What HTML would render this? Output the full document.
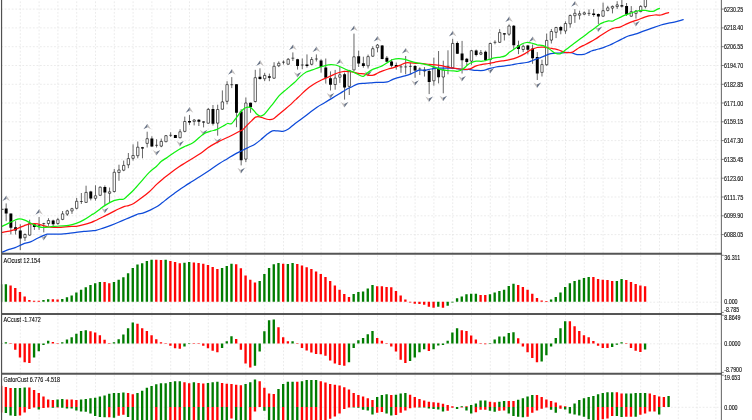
<!DOCTYPE html><html><head><meta charset="utf-8"><title>Chart</title><style>html,body{margin:0;padding:0;background:#fff;}svg{display:block}text{font-family:"Liberation Sans","DejaVu Sans",sans-serif;fill:#000}</style></head><body>
<svg width="752" height="420" viewBox="0 0 752 420">
<rect width="752" height="420" fill="#fff"/>
<path d="M20.3 -2.15V420M39.1 -2.15V420M57.9 -2.15V420M76.7 -2.15V420M95.5 -2.15V420M114.3 -2.15V420M133.1 -2.15V420M151.9 -2.15V420M170.7 -2.15V420M189.5 -2.15V420M208.3 -2.15V420M227.1 -2.15V420M245.9 -2.15V420M264.7 -2.15V420M283.5 -2.15V420M302.3 -2.15V420M321.1 -2.15V420M339.9 -2.15V420M358.7 -2.15V420M377.5 -2.15V420M396.3 -2.15V420M415.1 -2.15V420M433.9 -2.15V420M452.7 -2.15V420M471.5 -2.15V420M490.3 -2.15V420M509.1 -2.15V420M527.9 -2.15V420M546.7 -2.15V420M565.5 -2.15V420M584.3 -2.15V420M603.1 -2.15V420M621.9 -2.15V420M640.7 -2.15V420M659.5 -2.15V420M678.3 -2.15V420M697.1 -2.15V420M715.9 -2.15V420M1.2 9.1H721.4M1.2 27.9H721.4M1.2 46.7H721.4M1.2 65.5H721.4M1.2 84.3H721.4M1.2 103.0H721.4M1.2 121.8H721.4M1.2 140.6H721.4M1.2 159.4H721.4M1.2 178.2H721.4M1.2 197.0H721.4M1.2 215.8H721.4M1.2 234.6H721.4M1.2 302.2H721.4M1.2 343.8H721.4M1.2 407.3H721.4"  stroke="#dedede" stroke-width="0.6" stroke-dasharray="1.7625 1.7625" fill="none"/>
<clipPath id="mc"><rect x="0" y="0" width="722" height="252.9"/></clipPath><g clip-path="url(#mc)">
<path d="M6.4 195.4L10.0 201.0L6.4 198.9ZM39.3 209.1L42.9 214.7L39.3 212.6ZM147.4 123.7L151.0 129.3L147.4 127.2ZM189.7 107.1L193.3 112.7L189.7 110.6ZM232.0 69.1L235.6 74.7L232.0 72.6ZM260.2 60.3L263.8 65.9L260.2 63.8ZM293.1 44.4L296.7 50.0L293.1 47.9ZM316.6 46.4L320.2 52.0L316.6 49.9ZM340.1 58.9L343.7 64.5L340.1 62.4ZM354.2 25.6L357.8 31.2L354.2 29.1ZM377.7 36.0L381.3 41.6L377.7 39.5ZM405.9 48.0L409.5 53.6L405.9 51.5ZM452.9 30.8L456.5 36.4L452.9 34.3ZM509.3 16.4L512.9 22.0L509.3 19.9ZM532.8 36.5L536.4 42.1L532.8 40.0ZM575.1 1.1L578.7 6.7L575.1 4.6ZM20.0 258.2L16.5 252.6L20.0 254.7ZM43.5 240.4L40.0 234.8L43.5 236.9ZM104.6 213.2L101.1 207.6L104.6 209.7ZM156.3 155.5L152.8 149.9L156.3 152.0ZM179.8 146.4L176.3 140.8L179.8 142.9ZM203.3 135.4L199.8 129.8L203.3 131.9ZM217.4 143.7L213.9 138.1L217.4 140.2ZM240.9 173.4L237.4 167.8L240.9 169.9ZM297.3 77.6L293.8 72.0L297.3 74.1ZM330.2 98.5L326.7 92.9L330.2 95.0ZM344.3 107.6L340.8 102.0L344.3 104.1ZM367.8 76.5L364.3 70.9L367.8 73.0ZM414.8 85.8L411.3 80.2L414.8 82.3ZM428.9 102.1L425.4 96.5L428.9 98.6ZM443.0 101.3L439.5 95.7L443.0 97.8ZM461.8 81.5L458.3 75.9L461.8 78.0ZM490.0 73.6L486.5 68.0L490.0 70.1ZM537.0 88.0L533.5 82.4L537.0 84.5ZM598.1 32.1L594.6 26.5L598.1 28.6ZM635.7 26.6L632.2 21.0L635.7 23.1Z" fill="#bcb8b6" fill-opacity="0.9"/>
<path d="M6.4 195.4L6.4 198.9L2.4 201.0ZM39.3 209.1L39.3 212.6L35.3 214.7ZM147.4 123.7L147.4 127.2L143.4 129.3ZM189.7 107.1L189.7 110.6L185.7 112.7ZM232.0 69.1L232.0 72.6L228.0 74.7ZM260.2 60.3L260.2 63.8L256.2 65.9ZM293.1 44.4L293.1 47.9L289.1 50.0ZM316.6 46.4L316.6 49.9L312.6 52.0ZM340.1 58.9L340.1 62.4L336.1 64.5ZM354.2 25.6L354.2 29.1L350.2 31.2ZM377.7 36.0L377.7 39.5L373.7 41.6ZM405.9 48.0L405.9 51.5L401.9 53.6ZM452.9 30.8L452.9 34.3L448.9 36.4ZM509.3 16.4L509.3 19.9L505.3 22.0ZM532.8 36.5L532.8 40.0L528.8 42.1ZM575.1 1.1L575.1 4.6L571.1 6.7ZM20.0 258.2L20.0 254.7L24.1 252.6ZM43.5 240.4L43.5 236.9L47.6 234.8ZM104.6 213.2L104.6 209.7L108.7 207.6ZM156.3 155.5L156.3 152.0L160.4 149.9ZM179.8 146.4L179.8 142.9L183.9 140.8ZM203.3 135.4L203.3 131.9L207.4 129.8ZM217.4 143.7L217.4 140.2L221.5 138.1ZM240.9 173.4L240.9 169.9L245.0 167.8ZM297.3 77.6L297.3 74.1L301.4 72.0ZM330.2 98.5L330.2 95.0L334.3 92.9ZM344.3 107.6L344.3 104.1L348.4 102.0ZM367.8 76.5L367.8 73.0L371.9 70.9ZM414.8 85.8L414.8 82.3L418.9 80.2ZM428.9 102.1L428.9 98.6L433.0 96.5ZM443.0 101.3L443.0 97.8L447.1 95.7ZM461.8 81.5L461.8 78.0L465.9 75.9ZM490.0 73.6L490.0 70.1L494.1 68.0ZM537.0 88.0L537.0 84.5L541.1 82.4ZM598.1 32.1L598.1 28.6L602.2 26.5ZM635.7 26.6L635.7 23.1L639.8 21.0Z" fill="#687386" fill-opacity="1"/>
</g>
<path d="M6.17 203.4V221.2M10.87 213.6V234.5M15.57 221.2V234.5M20.27 224.3V250.2M24.97 233.4V241.0M29.67 219.7V235.7M34.37 223.2V229.9M39.07 217.1V229.9M37.60 225.4h2.94M43.77 222.8V232.4M42.30 223.6h2.94M48.47 218.2V225.8M53.17 219.7V226.3M57.87 217.9V224.7M62.57 211.0V220.2M67.27 209.8V215.9M71.97 207.8V213.9M76.67 197.9V209.4M81.37 193.0V203.9M79.90 201.5h2.94M86.07 185.7V203.0M90.77 190.8V200.4M95.47 185.3V200.6M100.17 186.5V195.8M104.87 185.4V205.2M109.57 187.5V203.0M114.27 169.0V192.5M118.97 164.7V180.8M123.67 160.6V171.2M128.37 153.0V168.2M133.07 144.3V160.6M137.77 141.5V158.3M142.47 146.9V158.3M147.17 131.7V147.5M151.87 136.3V146.8M156.57 139.2V147.5M155.10 145.3h2.94M161.27 138.6V147.2M165.97 135.0V142.2M170.67 132.3V136.9M169.20 135.3h2.94M175.37 134.9V138.0M180.07 129.2V138.4M184.77 116.6V132.3M189.47 115.1V124.9M194.17 119.1V125.4M198.87 119.1V126.0M203.57 121.2V127.4M208.27 108.0V123.8M212.97 105.0V125.5M217.67 104.7V135.7M222.37 90.4V109.8M227.07 81.2V104.3M231.77 77.1V88.1M230.30 84.7h2.94M236.47 84.0V127.2M241.17 109.2V165.4M245.87 97.5V162.2M250.57 102.5V112.8M255.27 69.8V102.5M259.97 68.3V79.7M264.67 72.9V81.2M269.37 73.6V81.2M274.07 62.2V78.8M278.77 61.4V67.1M283.47 60.4V64.5M282.00 62.2h2.94M288.17 58.0V64.8M292.87 52.4V61.0M291.40 58.2h2.94M297.57 58.8V69.6M302.27 58.5V69.1M300.80 65.0h2.94M306.97 54.4V67.6M311.67 57.0V65.3M316.37 54.4V61.5M314.90 59.0h2.94M321.07 59.2V72.6M325.77 58.5V83.6M330.47 71.4V90.5M335.17 69.9V89.7M339.87 66.9V82.9M344.57 72.6V99.6M349.27 69.9V95.0M353.97 33.6V70.7M358.67 50.6V67.0M363.37 56.7V67.7M368.07 54.6V68.5M372.77 46.3V57.0M377.47 44.0V52.3M382.17 45.0V59.3M386.87 56.0V62.0M391.57 59.2V67.5M396.27 62.6V69.6M400.97 65.1V72.8M399.50 66.9h2.94M405.67 56.0V74.3M404.20 66.9h2.94M410.37 62.9V74.3M408.90 66.4h2.94M415.07 65.1V77.8M419.77 67.4V75.0M418.30 69.0h2.94M424.47 67.1V76.6M429.17 69.7V94.1M433.87 57.6V85.7M438.57 51.0V83.4M443.27 60.7V93.3M447.97 50.3V74.3M446.50 66.3h2.94M452.67 38.8V68.5M457.37 41.5V54.0M462.07 40.9V73.5M466.77 57.9V65.6M471.47 49.8V64.8M476.17 49.5V56.4M480.87 50.0V55.1M485.57 50.6V61.2M490.27 42.5V65.6M494.97 40.3V44.3M493.50 42.3h2.94M499.67 29.1V43.0M504.37 33.2V40.5M509.07 24.4V35.8M513.77 25.0V48.9M518.47 40.7V54.1M523.17 44.5V52.1M527.87 45.0V54.4M532.57 44.5V63.8M537.27 52.1V80.0M541.97 59.7V76.5M546.67 33.6V65.8M551.37 29.0V43.5M556.07 26.8V38.1M560.77 25.9V34.3M565.47 21.3V33.8M570.17 14.5V27.7M574.87 9.1V22.9M579.57 10.7V19.5M584.27 11.4V15.2M588.97 9.4V16.0M587.50 13.4h2.94M593.67 9.1V16.8M598.37 13.5V24.1M603.07 2.7V16.8M607.77 5.8V11.4M612.47 5.5V13.4M617.17 1.2V9.1M621.87 -1.0V7.6M626.57 3.0V16.0M631.27 6.1V16.8M635.97 10.0V18.6M640.67 5.3V12.2M645.37 -3.0V8.4" stroke="#000" stroke-width="0.6" fill="none"/>
<path d="M4.70 208.6h2.94V213.6h-2.94ZM9.40 213.6h2.94V227.8h-2.94ZM14.10 227.3h2.94V230.4h-2.94ZM18.80 230.4h2.94V238.5h-2.94ZM32.90 224.3h2.94V227.0h-2.94ZM51.70 220.5h2.94V224.3h-2.94ZM89.30 191.6h2.94V198.5h-2.94ZM103.40 186.9h2.94V192.6h-2.94ZM141.00 147.3h2.94V148.4h-2.94ZM150.40 138.6h2.94V146.4h-2.94ZM173.90 134.9h2.94V138.0h-2.94ZM188.00 120.9h2.94V122.4h-2.94ZM197.40 119.7h2.94V121.7h-2.94ZM202.10 121.4h2.94V122.6h-2.94ZM211.50 109.1h2.94V123.8h-2.94ZM235.00 84.3h2.94V112.8h-2.94ZM239.70 111.6h2.94V160.2h-2.94ZM249.10 102.8h2.94V107.2h-2.94ZM258.50 76.7h2.94V79.0h-2.94ZM267.90 76.2h2.94V77.7h-2.94ZM296.10 59.2h2.94V66.1h-2.94ZM305.50 64.6h2.94V66.1h-2.94ZM319.60 60.5h2.94V66.9h-2.94ZM324.30 67.6h2.94V77.8h-2.94ZM329.00 78.3h2.94V84.8h-2.94ZM343.10 74.2h2.94V87.4h-2.94ZM357.20 56.2h2.94V63.6h-2.94ZM361.90 63.3h2.94V66.1h-2.94ZM380.70 45.6h2.94V59.1h-2.94ZM385.40 57.7h2.94V61.8h-2.94ZM390.10 61.4h2.94V65.8h-2.94ZM394.80 65.1h2.94V67.1h-2.94ZM413.60 65.9h2.94V70.5h-2.94ZM423.00 69.7h2.94V71.2h-2.94ZM427.70 70.9h2.94V81.9h-2.94ZM437.10 69.0h2.94V77.3h-2.94ZM455.90 43.0h2.94V53.8h-2.94ZM460.60 53.6h2.94V60.2h-2.94ZM465.30 58.8h2.94V62.0h-2.94ZM474.70 50.4h2.94V55.0h-2.94ZM484.10 51.8h2.94V60.3h-2.94ZM502.90 33.2h2.94V34.4h-2.94ZM512.30 25.7h2.94V45.3h-2.94ZM517.00 45.2h2.94V49.0h-2.94ZM526.40 45.5h2.94V49.8h-2.94ZM531.10 48.6h2.94V58.2h-2.94ZM535.80 57.1h2.94V73.4h-2.94ZM559.30 27.1h2.94V30.5h-2.94ZM592.20 13.4h2.94V14.9h-2.94ZM596.90 14.0h2.94V16.5h-2.94ZM620.40 5.3h2.94V6.4h-2.94ZM625.10 6.1h2.94V14.5h-2.94Z" fill="#000"/>
<path d="M23.79 234.5h2.35V237.7h-2.35ZM28.50 223.5h2.35V235.1h-2.35ZM47.30 220.5h2.35V223.5h-2.35ZM56.70 219.7h2.35V223.5h-2.35ZM61.40 213.9h2.35V219.4h-2.35ZM66.09 210.9h2.35V214.1h-2.35ZM70.80 208.7h2.35V210.9h-2.35ZM75.50 201.3h2.35V208.3h-2.35ZM84.90 192.4h2.35V202.4h-2.35ZM94.30 195.8h2.35V198.3h-2.35ZM99.00 187.2h2.35V195.3h-2.35ZM108.40 191.8h2.35V193.3h-2.35ZM113.10 172.3h2.35V191.5h-2.35ZM117.80 170.0h2.35V172.5h-2.35ZM122.50 165.4h2.35V170.2h-2.35ZM127.20 158.6h2.35V164.8h-2.35ZM131.89 155.5h2.35V158.3h-2.35ZM136.59 147.2h2.35V155.7h-2.35ZM146.00 138.7h2.35V143.4h-2.35ZM160.09 141.4h2.35V146.1h-2.35ZM164.79 135.7h2.35V141.7h-2.35ZM178.89 131.8h2.35V137.7h-2.35ZM183.59 121.5h2.35V131.4h-2.35ZM193.00 120.0h2.35V121.4h-2.35ZM207.09 109.4h2.35V123.2h-2.35ZM216.50 109.5h2.35V123.1h-2.35ZM221.19 101.9h2.35V109.2h-2.35ZM225.90 84.6h2.35V101.3h-2.35ZM244.69 103.0h2.35V159.1h-2.35ZM254.09 77.7h2.35V101.5h-2.35ZM263.50 75.4h2.35V78.7h-2.35ZM272.90 66.3h2.35V78.2h-2.35ZM277.60 63.3h2.35V65.7h-2.35ZM287.00 59.3h2.35V64.2h-2.35ZM310.50 59.5h2.35V64.3h-2.35ZM334.00 78.1h2.35V84.5h-2.35ZM338.70 74.8h2.35V77.2h-2.35ZM348.10 70.5h2.35V86.4h-2.35ZM352.80 56.8h2.35V69.9h-2.35ZM366.90 56.6h2.35V65.8h-2.35ZM371.60 48.7h2.35V56.2h-2.35ZM376.30 45.1h2.35V47.7h-2.35ZM432.70 67.7h2.35V80.8h-2.35ZM442.10 70.0h2.35V77.0h-2.35ZM451.50 43.4h2.35V67.7h-2.35ZM470.30 50.7h2.35V61.1h-2.35ZM479.70 52.7h2.35V54.2h-2.35ZM489.10 43.5h2.35V59.6h-2.35ZM498.50 32.6h2.35V42.3h-2.35ZM507.90 26.0h2.35V34.2h-2.35ZM522.00 46.3h2.35V49.5h-2.35ZM540.80 64.6h2.35V72.4h-2.35ZM545.50 40.4h2.35V64.7h-2.35ZM550.20 31.5h2.35V40.1h-2.35ZM554.90 27.5h2.35V32.3h-2.35ZM564.30 23.5h2.35V30.9h-2.35ZM569.00 15.5h2.35V23.8h-2.35ZM573.70 13.3h2.35V15.7h-2.35ZM578.40 13.7h2.35V15.2h-2.35ZM583.10 12.8h2.35V14.2h-2.35ZM601.90 10.7h2.35V16.2h-2.35ZM606.60 7.9h2.35V10.4h-2.35ZM611.30 6.4h2.35V8.1h-2.35ZM616.00 4.9h2.35V6.6h-2.35ZM630.10 11.7h2.35V16.2h-2.35ZM634.80 11.0h2.35V13.4h-2.35ZM639.50 6.4h2.35V11.6h-2.35ZM644.20 -1.7h2.35V6.6h-2.35Z" fill="#fff" stroke="#000" stroke-width="0.6"/>
<path d="M1 209.3h2.6" stroke="#000" stroke-width="0.8"/>
<path d="M1.5 252.5C2.8 252.0 6.8 250.2 9.1 249.4C11.4 248.6 12.9 248.5 15.2 247.6C17.5 246.7 20.3 245.1 22.9 244.1C25.4 243.1 28.0 242.8 30.5 241.8C33.0 240.8 35.6 239.2 38.1 238.0C40.6 236.8 43.9 235.2 45.7 234.6C47.5 234.0 46.2 234.3 48.8 234.2C51.3 234.1 57.7 234.3 61.0 234.2C64.3 234.1 66.1 233.7 68.6 233.4C71.1 233.1 73.7 232.7 76.2 232.4C78.7 232.1 81.3 231.7 83.8 231.4C86.3 231.1 89.4 231.0 91.4 230.8C93.4 230.6 94.0 230.8 96.0 230.3C98.0 229.9 100.7 228.9 103.2 228.1C105.7 227.3 108.4 226.4 110.9 225.4C113.5 224.4 116.0 223.4 118.5 222.3C121.0 221.2 123.6 220.1 126.1 219.0C128.6 217.9 131.7 216.8 133.7 215.9C135.7 215.1 136.8 214.4 138.3 213.9C139.8 213.4 141.1 213.8 142.9 213.2C144.7 212.6 146.7 211.7 149.0 210.6C151.3 209.5 154.3 208.2 156.6 206.8C158.8 205.5 160.7 203.8 162.5 202.5C164.3 201.2 165.4 200.1 167.2 198.7C169.0 197.3 171.3 195.8 173.3 194.3C175.3 192.8 177.5 191.2 179.4 189.8C181.3 188.4 182.9 187.4 185.0 186.0C187.1 184.6 189.5 183.1 192.0 181.5C194.5 179.9 197.0 178.4 200.0 176.5C203.0 174.6 206.7 172.2 210.0 170.0C213.3 167.8 216.9 165.1 219.8 163.2C222.7 161.3 224.9 160.2 227.4 158.7C229.9 157.2 232.4 155.5 235.0 154.1C237.6 152.7 240.4 151.5 242.7 150.3C245.0 149.2 246.8 148.2 248.8 147.2C250.8 146.2 252.9 145.5 254.9 144.2C256.9 142.9 259.0 141.2 261.0 139.6C263.0 137.9 265.1 135.8 267.0 134.3C268.9 132.9 270.6 131.5 272.4 130.9C274.2 130.3 275.8 130.9 277.7 130.9C279.6 130.9 282.0 131.5 283.8 131.2C285.6 130.9 286.7 130.1 288.4 129.0C290.1 127.9 292.1 125.9 294.0 124.4C295.9 122.9 297.7 121.7 300.0 120.0C302.3 118.3 305.2 116.1 308.0 114.0C310.8 111.9 314.2 109.1 317.0 107.2C319.8 105.3 322.1 104.2 324.6 102.7C327.1 101.2 329.7 99.6 332.2 98.1C334.7 96.6 337.5 94.9 339.8 93.5C342.1 92.1 343.9 90.8 345.9 89.7C347.9 88.6 350.0 87.7 352.0 86.7C354.0 85.7 356.1 84.5 358.1 83.9C360.1 83.3 362.2 83.5 364.2 83.3C366.2 83.1 368.3 83.1 370.3 82.9C372.3 82.8 374.4 82.5 376.4 82.4C378.4 82.3 380.3 82.5 382.1 82.4C383.9 82.3 385.6 82.4 387.4 81.9C389.2 81.4 390.9 80.1 392.8 79.3C394.7 78.5 396.9 77.9 398.9 77.3C400.9 76.7 403.0 76.4 405.0 75.8C407.0 75.2 409.2 74.5 411.0 73.8C412.8 73.1 414.2 72.3 415.6 71.7C417.0 71.1 417.9 70.5 419.4 70.2C420.9 70.0 422.9 70.4 424.8 70.2C426.7 70.0 428.9 69.3 430.9 69.0C432.9 68.7 435.0 68.3 437.0 68.2C439.0 68.1 441.0 68.2 443.0 68.2C445.0 68.2 447.1 67.9 449.1 67.9C451.1 68.0 453.2 68.3 455.2 68.5C457.2 68.7 459.3 69.1 461.3 69.3C463.3 69.5 465.9 69.5 467.4 69.5C468.9 69.5 468.6 69.4 470.1 69.6C471.6 69.8 473.9 70.3 476.2 70.4C478.5 70.5 481.5 70.7 483.8 70.4C486.1 70.1 487.9 69.0 489.9 68.4C491.9 67.8 493.7 67.4 496.0 67.0C498.3 66.6 501.1 66.4 503.6 66.1C506.1 65.8 508.6 65.4 511.2 65.0C513.8 64.6 516.4 63.9 518.9 63.5C521.4 63.1 524.2 63.0 526.5 62.5C528.8 62.0 530.6 61.2 532.6 60.5C534.6 59.8 536.7 59.0 538.7 58.2C540.7 57.4 542.8 56.7 544.8 55.9C546.8 55.1 548.4 54.1 550.9 53.6C553.4 53.1 556.5 53.2 559.6 53.0C562.7 52.8 567.1 52.4 569.5 52.5C571.9 52.6 572.7 53.2 574.0 53.6C575.3 54.0 575.5 54.5 577.1 54.6C578.7 54.7 582.0 54.6 583.8 54.3C585.6 54.0 586.7 53.2 588.0 52.7C589.3 52.2 590.1 51.5 591.4 51.0C592.6 50.5 594.1 50.2 595.5 49.8C596.9 49.4 598.5 49.0 600.0 48.6C601.5 48.2 603.0 47.8 604.5 47.2C606.0 46.7 607.7 46.0 609.3 45.3C610.9 44.6 612.4 43.8 614.0 43.0C615.6 42.2 617.2 41.4 618.8 40.6C620.4 39.8 621.9 39.0 623.5 38.2C625.1 37.4 626.4 36.7 628.3 36.0C630.2 35.3 632.5 35.0 635.0 34.2C637.5 33.4 640.4 32.2 643.4 31.1C646.4 30.0 650.4 28.6 653.3 27.6C656.2 26.6 658.5 25.8 661.0 25.0C663.5 24.2 666.1 23.7 668.6 23.1C671.1 22.6 673.8 22.3 676.2 21.7C678.6 21.1 682.0 20.0 683.2 19.7" stroke="#0d4ad9" stroke-width="1.25" fill="none" stroke-linejoin="round" stroke-linecap="round"/>
<path d="M1.5 232.6C2.8 232.3 7.2 231.6 9.5 231.1C11.8 230.6 13.6 229.9 15.2 229.4C16.8 228.9 17.5 228.4 19.0 227.8C20.5 227.2 22.4 226.4 24.0 225.8C25.6 225.2 26.9 224.5 28.6 224.1C30.3 223.7 32.7 223.5 34.3 223.5C35.9 223.5 36.7 223.7 38.1 224.0C39.5 224.3 41.3 224.9 42.9 225.4C44.5 225.9 45.9 226.5 47.6 226.8C49.3 227.1 51.1 227.2 53.3 227.3C55.5 227.4 58.5 227.4 61.0 227.3C63.5 227.2 66.1 226.8 68.6 226.6C71.1 226.4 73.7 226.6 76.2 226.3C78.7 226.0 81.3 225.4 83.8 224.7C86.3 224.0 89.4 223.0 91.4 222.3C93.4 221.6 93.6 221.4 95.6 220.5C97.6 219.6 100.7 218.0 103.2 216.7C105.8 215.4 108.4 214.2 110.9 212.9C113.5 211.6 116.2 210.1 118.5 209.0C120.8 207.9 122.9 206.9 124.6 206.3C126.2 205.8 126.9 206.2 128.4 205.7C129.9 205.2 131.5 204.8 133.7 203.5C135.8 202.2 138.8 200.0 141.3 198.1C143.9 196.2 146.4 194.3 149.0 192.0C151.6 189.7 154.1 186.8 156.6 184.4C159.1 182.0 161.7 179.9 164.2 177.8C166.7 175.7 169.3 173.8 171.8 171.9C174.3 170.0 177.2 168.0 179.4 166.5C181.6 165.0 182.9 164.3 185.0 163.0C187.1 161.7 189.5 160.2 192.0 158.7C194.5 157.2 197.4 155.6 200.0 153.8C202.6 152.0 205.1 149.7 207.6 148.0C210.1 146.3 212.6 144.8 215.2 143.4C217.8 142.0 220.3 140.7 222.9 139.5C225.5 138.3 228.0 137.2 230.5 136.0C233.0 134.8 236.1 133.1 238.1 132.0C240.1 130.9 241.2 130.8 242.7 129.7C244.2 128.5 245.7 126.6 247.2 125.1C248.7 123.6 250.4 121.9 251.8 120.6C253.2 119.3 254.3 117.7 255.6 117.1C256.9 116.5 258.0 116.6 259.4 116.8C260.8 117.0 262.5 117.8 264.0 118.3C265.5 118.8 267.1 119.4 268.6 119.5C270.1 119.6 271.6 119.7 273.1 119.0C274.6 118.3 275.9 116.7 277.7 115.2C279.5 113.7 281.8 111.9 283.8 110.2C285.8 108.5 287.9 106.9 289.9 105.1C291.9 103.3 293.8 101.3 295.7 99.6C297.6 97.8 299.2 96.2 301.0 94.6C302.8 92.9 304.5 91.1 306.2 89.7C307.9 88.3 309.4 87.1 311.0 86.0C312.6 84.9 313.9 84.0 315.7 83.0C317.5 82.0 319.9 80.8 322.0 79.8C324.1 78.8 326.2 78.1 328.1 77.2C330.1 76.3 332.1 75.3 333.7 74.6C335.3 73.9 335.8 73.5 337.6 73.0C339.4 72.5 341.9 71.5 344.3 71.3C346.7 71.1 349.6 71.6 351.9 71.9C354.2 72.2 356.1 73.0 358.1 73.3C360.2 73.6 362.4 73.5 364.2 73.8C366.0 74.1 367.3 75.1 368.8 75.3C370.3 75.5 371.8 75.6 373.3 75.2C374.8 74.8 376.4 73.7 377.9 73.0C379.4 72.3 380.4 71.9 382.1 71.2C383.8 70.5 386.2 69.6 388.2 69.0C390.2 68.4 392.3 68.1 394.3 67.4C396.3 66.8 398.5 65.8 400.4 65.1C402.3 64.3 403.9 63.3 405.7 62.9C407.5 62.5 409.1 62.8 411.0 62.9C412.9 63.0 415.1 63.2 417.1 63.3C419.1 63.4 421.2 63.4 423.2 63.6C425.2 63.8 427.3 64.2 429.3 64.4C431.3 64.6 433.4 64.6 435.4 64.8C437.4 65.0 439.5 65.2 441.5 65.6C443.5 66.0 445.6 66.7 447.6 67.1C449.6 67.5 451.7 67.9 453.7 68.2C455.7 68.5 457.8 68.8 459.8 69.0C461.8 69.2 464.2 69.3 465.9 69.3C467.6 69.3 468.4 69.5 470.1 68.9C471.8 68.3 474.2 66.6 476.2 65.8C478.2 65.0 480.3 64.7 482.3 64.3C484.3 63.9 486.4 63.8 488.4 63.5C490.4 63.2 492.2 62.7 494.5 62.3C496.8 61.9 499.6 61.3 502.1 60.9C504.6 60.5 507.2 60.3 509.7 59.7C512.2 59.1 514.8 58.4 517.3 57.4C519.8 56.4 522.7 54.9 525.0 53.6C527.3 52.3 529.0 50.8 531.0 49.8C533.0 48.8 535.1 48.0 537.1 47.5C539.1 47.0 541.2 47.0 543.2 47.1C545.2 47.2 547.6 47.7 549.3 48.0C551.0 48.3 552.3 48.6 553.5 48.8C554.7 49.0 555.5 49.0 556.6 49.3C557.7 49.6 558.6 50.0 560.0 50.5C561.4 51.0 562.9 52.0 564.8 52.3C566.7 52.6 569.7 52.7 571.4 52.4C573.1 52.1 573.7 51.3 575.0 50.5C576.3 49.7 577.5 48.7 579.0 47.8C580.5 46.9 582.4 46.0 584.0 45.2C585.6 44.4 586.8 43.9 588.6 42.9C590.4 41.9 593.0 40.5 595.0 39.3C597.0 38.1 598.6 36.9 600.7 35.5C602.8 34.1 605.3 32.4 607.4 31.2C609.5 30.0 610.9 29.1 613.1 28.4C615.3 27.7 618.3 27.6 620.7 26.8C623.1 26.0 625.0 24.6 627.4 23.6C629.8 22.6 633.1 21.4 635.0 20.7C636.9 20.0 637.4 20.1 638.9 19.5C640.4 18.9 642.4 17.9 644.0 17.3C645.6 16.7 647.0 16.3 648.8 15.9C650.6 15.5 652.9 15.2 654.9 15.0C656.9 14.8 659.3 15.2 661.0 15.0C662.7 14.8 663.7 14.1 665.0 13.7C666.3 13.3 668.0 12.8 668.6 12.6" stroke="#ff1010" stroke-width="1.25" fill="none" stroke-linejoin="round" stroke-linecap="round"/>
<path d="M1.5 226.6C2.8 225.9 7.2 223.8 9.5 222.7C11.8 221.6 13.5 220.7 15.2 220.0C16.8 219.3 17.8 218.8 19.4 218.8C21.0 218.8 22.8 219.4 24.8 220.2C26.8 221.0 29.2 222.4 31.4 223.5C33.6 224.6 36.2 226.1 38.1 226.7C40.0 227.3 41.0 227.2 42.9 227.3C44.8 227.4 46.8 227.2 49.5 227.0C52.2 226.8 55.8 226.3 59.0 226.0C62.2 225.7 65.7 225.8 68.6 225.4C71.5 225.0 73.7 224.3 76.2 223.4C78.7 222.5 81.3 221.3 83.8 219.9C86.3 218.5 89.7 216.1 91.4 215.0C93.1 213.9 92.6 214.4 94.1 213.4C95.6 212.4 98.2 210.4 100.2 208.9C102.2 207.4 104.0 206.0 106.3 204.6C108.6 203.2 111.7 201.6 113.9 200.7C116.1 199.8 117.7 199.7 119.3 199.4C120.9 199.2 122.0 199.8 123.4 199.2C124.8 198.6 125.9 197.3 127.6 195.8C129.3 194.3 131.4 192.4 133.7 190.0C136.0 187.6 138.8 184.2 141.3 181.3C143.9 178.4 146.4 175.1 149.0 172.6C151.6 170.1 154.6 168.0 156.6 166.2C158.6 164.4 159.3 163.1 161.1 161.6C162.9 160.1 165.2 158.8 167.2 157.4C169.2 156.0 171.3 154.7 173.3 153.3C175.3 152.0 177.4 150.5 179.4 149.3C181.4 148.1 182.9 147.4 185.1 146.3C187.3 145.2 190.2 144.5 192.6 143.0C195.0 141.5 197.4 139.1 199.3 137.5C201.2 135.9 202.1 134.8 204.0 133.7C205.9 132.6 208.6 131.9 210.7 131.2C212.8 130.5 214.7 130.4 216.4 129.7C218.1 129.0 219.7 127.9 221.0 127.2C222.3 126.5 223.4 126.0 224.5 125.4C225.6 124.8 226.4 123.8 227.6 123.5C228.8 123.2 230.2 124.5 231.4 123.8C232.6 123.1 233.6 121.2 235.0 119.5C236.4 117.8 238.1 115.1 239.6 113.3C241.1 111.5 242.8 109.6 244.2 108.6C245.6 107.6 246.5 107.1 247.8 107.1C249.1 107.1 250.4 107.3 251.8 108.4C253.2 109.5 255.0 112.4 256.4 113.7C257.8 115.0 258.9 115.9 260.2 116.0C261.5 116.1 262.6 115.7 264.0 114.5C265.4 113.3 267.1 110.9 268.6 109.1C270.1 107.3 271.3 105.8 273.1 103.6C274.9 101.4 276.9 98.2 279.2 95.7C281.5 93.2 284.4 91.1 286.9 88.9C289.4 86.8 291.9 84.8 294.1 82.8C296.3 80.8 298.2 78.4 300.2 76.6C302.2 74.8 304.3 73.1 306.3 72.0C308.3 70.9 310.4 70.6 312.4 69.9C314.4 69.2 316.5 68.3 318.5 67.6C320.5 66.9 322.6 66.3 324.6 65.8C326.6 65.3 328.9 64.7 330.7 64.6C332.5 64.5 333.4 64.6 335.2 65.0C337.0 65.4 339.3 66.3 341.3 67.2C343.3 68.1 345.4 69.4 347.4 70.2C349.4 71.0 351.5 71.4 353.5 72.2C355.5 73.0 358.0 74.5 359.6 75.2C361.2 75.9 362.1 76.7 363.4 76.3C364.7 75.9 365.8 74.1 367.2 73.0C368.6 71.9 370.0 70.8 371.8 69.9C373.6 69.0 376.2 68.3 377.9 67.6C379.6 66.9 380.4 66.8 382.1 65.9C383.8 65.0 386.4 63.2 388.2 62.1C390.0 61.0 391.0 60.1 392.8 59.5C394.6 58.9 396.9 58.6 398.9 58.6C400.9 58.6 403.0 59.0 405.0 59.4C407.0 59.8 409.0 60.7 411.0 61.3C413.0 61.9 415.1 62.5 417.1 62.9C419.1 63.3 421.2 63.5 423.2 63.9C425.2 64.3 427.3 64.8 429.3 65.4C431.3 66.0 433.4 66.7 435.4 67.4C437.4 68.1 439.5 69.2 441.5 69.7C443.5 70.2 445.6 70.3 447.6 70.5C449.6 70.7 451.9 70.8 453.7 70.9C455.5 71.0 456.8 71.5 458.3 71.2C459.8 70.9 461.4 70.0 462.9 69.0C464.4 68.0 466.2 66.1 467.4 65.1C468.6 64.1 468.6 63.9 470.1 63.2C471.6 62.6 474.2 61.5 476.2 61.2C478.2 60.9 480.3 61.5 482.3 61.2C484.3 61.0 486.4 60.2 488.4 59.7C490.4 59.2 492.5 58.3 494.5 57.9C496.5 57.5 498.8 57.4 500.6 57.1C502.4 56.8 503.6 56.7 505.1 55.9C506.6 55.1 507.9 53.4 509.7 52.1C511.5 50.8 513.8 49.4 515.8 48.0C517.8 46.6 520.1 44.9 521.9 44.0C523.7 43.1 525.0 42.7 526.5 42.5C528.0 42.3 529.2 42.6 531.0 43.0C532.8 43.4 535.1 44.3 537.1 44.8C539.1 45.2 541.2 45.0 543.2 45.7C545.2 46.4 547.5 47.9 549.3 49.0C551.1 50.1 552.7 51.7 553.9 52.5C555.1 53.3 555.6 53.5 556.6 53.7C557.6 53.9 558.9 54.1 560.0 53.8C561.1 53.5 562.0 52.7 563.0 52.0C564.0 51.3 564.5 50.7 565.7 49.8C566.9 48.9 568.6 47.6 570.0 46.5C571.4 45.4 572.8 44.4 574.3 43.3C575.8 42.2 577.4 41.0 579.0 39.8C580.6 38.6 582.3 37.3 583.8 36.2C585.3 35.1 586.7 34.0 588.0 33.0C589.3 32.0 590.2 31.4 591.4 30.5C592.6 29.6 593.5 29.0 595.0 27.9C596.5 26.8 599.2 24.6 600.7 23.6C602.2 22.7 602.7 22.7 604.0 22.2C605.3 21.7 607.0 21.0 608.4 20.8C609.8 20.6 611.1 21.4 612.2 21.2C613.3 21.0 613.9 20.3 615.0 19.8C616.1 19.3 617.3 18.8 619.0 18.0C620.7 17.2 623.1 16.0 625.1 15.2C627.1 14.4 629.2 13.7 631.2 13.0C633.2 12.3 635.5 11.4 637.3 11.0C639.1 10.6 640.5 10.5 641.9 10.4C643.3 10.3 644.3 10.2 645.7 10.4C647.1 10.6 648.9 11.3 650.3 11.4C651.7 11.5 653.0 11.4 654.1 11.1C655.2 10.8 656.2 9.8 657.1 9.4C658.0 9.0 659.0 8.6 659.4 8.4" stroke="#10f010" stroke-width="1.25" fill="none" stroke-linejoin="round" stroke-linecap="round"/>
<path d="M0.00 284.3h2.35V301.8h-2.35ZM4.70 284.3h2.35V301.8h-2.35ZM42.30 300.1h2.35V301.8h-2.35ZM47.00 299.3h2.35V301.8h-2.35ZM61.10 299.1h2.35V301.8h-2.35ZM65.80 297.3h2.35V301.8h-2.35ZM70.50 295.4h2.35V301.8h-2.35ZM75.20 292.6h2.35V301.8h-2.35ZM79.90 289.7h2.35V301.8h-2.35ZM84.60 287.3h2.35V301.8h-2.35ZM89.30 285.0h2.35V301.8h-2.35ZM94.00 283.3h2.35V301.8h-2.35ZM98.70 282.1h2.35V301.8h-2.35ZM112.80 282.1h2.35V301.8h-2.35ZM117.50 279.7h2.35V301.8h-2.35ZM122.20 277.3h2.35V301.8h-2.35ZM126.90 273.3h2.35V301.8h-2.35ZM131.60 268.0h2.35V301.8h-2.35ZM136.30 264.4h2.35V301.8h-2.35ZM141.00 263.3h2.35V301.8h-2.35ZM145.70 260.9h2.35V301.8h-2.35ZM150.40 259.7h2.35V301.8h-2.35ZM164.50 259.7h2.35V301.8h-2.35ZM183.30 262.7h2.35V301.8h-2.35ZM188.00 262.1h2.35V301.8h-2.35ZM220.90 268.0h2.35V301.8h-2.35ZM225.60 266.1h2.35V301.8h-2.35ZM230.30 263.7h2.35V301.8h-2.35ZM258.50 281.1h2.35V301.8h-2.35ZM263.20 274.0h2.35V301.8h-2.35ZM267.90 268.0h2.35V301.8h-2.35ZM272.60 264.3h2.35V301.8h-2.35ZM277.30 263.1h2.35V301.8h-2.35ZM286.70 264.0h2.35V301.8h-2.35ZM291.40 262.9h2.35V301.8h-2.35ZM352.50 294.0h2.35V301.8h-2.35ZM357.20 292.1h2.35V301.8h-2.35ZM361.90 291.4h2.35V301.8h-2.35ZM366.60 288.6h2.35V301.8h-2.35ZM371.30 285.1h2.35V301.8h-2.35ZM437.10 301.8h2.35V306.8h-2.35ZM446.50 301.8h2.35V305.7h-2.35ZM451.20 301.8h2.35V302.4h-2.35ZM455.90 298.3h2.35V301.8h-2.35ZM460.60 296.6h2.35V301.8h-2.35ZM465.30 294.3h2.35V301.8h-2.35ZM470.00 293.7h2.35V301.8h-2.35ZM474.70 293.7h2.35V301.8h-2.35ZM488.80 294.3h2.35V301.8h-2.35ZM493.50 292.6h2.35V301.8h-2.35ZM498.20 290.9h2.35V301.8h-2.35ZM502.90 289.7h2.35V301.8h-2.35ZM507.60 286.1h2.35V301.8h-2.35ZM512.30 283.7h2.35V301.8h-2.35ZM549.90 299.4h2.35V301.8h-2.35ZM554.60 297.1h2.35V301.8h-2.35ZM559.30 292.6h2.35V301.8h-2.35ZM564.00 286.9h2.35V301.8h-2.35ZM568.70 283.3h2.35V301.8h-2.35ZM573.40 280.9h2.35V301.8h-2.35ZM578.10 279.7h2.35V301.8h-2.35ZM582.80 278.0h2.35V301.8h-2.35ZM587.50 277.1h2.35V301.8h-2.35ZM615.70 280.9h2.35V301.8h-2.35ZM620.40 279.1h2.35V301.8h-2.35ZM0.00 343.3h2.35V343.8h-2.35ZM4.70 342.2h2.35V343.6h-2.35ZM32.90 343.6h2.35V357.6h-2.35ZM37.60 343.6h2.35V351.2h-2.35ZM42.30 343.6h2.35V345.0h-2.35ZM47.00 340.7h2.35V343.6h-2.35ZM61.10 342.2h2.35V343.6h-2.35ZM65.80 339.5h2.35V343.6h-2.35ZM70.50 337.2h2.35V343.6h-2.35ZM75.20 333.7h2.35V343.6h-2.35ZM79.90 330.9h2.35V343.6h-2.35ZM84.60 330.2h2.35V343.6h-2.35ZM112.80 342.3h2.35V343.6h-2.35ZM117.50 339.3h2.35V343.6h-2.35ZM122.20 334.5h2.35V343.6h-2.35ZM126.90 328.3h2.35V343.6h-2.35ZM131.60 322.6h2.35V343.6h-2.35ZM183.30 343.6h2.35V346.6h-2.35ZM188.00 343.6h2.35V344.1h-2.35ZM220.90 343.6h2.35V347.9h-2.35ZM225.60 341.2h2.35V343.6h-2.35ZM230.30 336.2h2.35V343.6h-2.35ZM253.80 343.6h2.35V365.7h-2.35ZM258.50 343.6h2.35V351.6h-2.35ZM263.20 331.2h2.35V343.6h-2.35ZM267.90 320.2h2.35V343.6h-2.35ZM272.60 319.5h2.35V343.6h-2.35ZM291.40 341.2h2.35V343.6h-2.35ZM347.80 343.6h2.35V362.3h-2.35ZM352.50 343.6h2.35V348.0h-2.35ZM357.20 340.2h2.35V343.6h-2.35ZM361.90 337.9h2.35V343.6h-2.35ZM366.60 334.3h2.35V343.6h-2.35ZM371.30 330.9h2.35V343.6h-2.35ZM408.90 343.6h2.35V360.9h-2.35ZM413.60 343.6h2.35V357.6h-2.35ZM418.30 343.6h2.35V352.3h-2.35ZM423.00 343.6h2.35V349.3h-2.35ZM432.40 343.6h2.35V349.3h-2.35ZM437.10 343.6h2.35V345.5h-2.35ZM441.80 343.6h2.35V345.0h-2.35ZM446.50 340.7h2.35V343.6h-2.35ZM451.20 332.6h2.35V343.6h-2.35ZM455.90 328.3h2.35V343.6h-2.35ZM488.80 343.1h2.35V343.6h-2.35ZM493.50 339.5h2.35V343.6h-2.35ZM498.20 336.6h2.35V343.6h-2.35ZM502.90 336.6h2.35V343.6h-2.35ZM507.60 333.0h2.35V343.6h-2.35ZM512.30 332.2h2.35V343.6h-2.35ZM540.50 343.6h2.35V361.6h-2.35ZM545.20 343.6h2.35V355.2h-2.35ZM549.90 343.6h2.35V346.5h-2.35ZM554.60 338.0h2.35V343.6h-2.35ZM559.30 328.3h2.35V343.6h-2.35ZM564.00 321.2h2.35V343.6h-2.35ZM611.00 343.6h2.35V346.9h-2.35ZM615.70 343.6h2.35V344.7h-2.35ZM620.40 342.2h2.35V343.6h-2.35ZM643.90 343.6h2.35V349.5h-2.35ZM4.70 407.1h2.35V413.1h-2.35ZM9.40 407.1h2.35V415.5h-2.35ZM14.10 388.1h2.35V407.1h-2.35ZM14.10 407.1h2.35V416.0h-2.35ZM18.80 388.1h2.35V407.1h-2.35ZM23.50 387.6h2.35V407.1h-2.35ZM37.60 407.1h2.35V409.5h-2.35ZM51.70 407.1h2.35V407.8h-2.35ZM56.40 399.4h2.35V407.1h-2.35ZM61.10 398.9h2.35V407.1h-2.35ZM61.10 407.1h2.35V407.8h-2.35ZM65.80 407.1h2.35V408.4h-2.35ZM70.50 407.1h2.35V408.4h-2.35ZM75.20 407.1h2.35V410.4h-2.35ZM79.90 399.4h2.35V407.1h-2.35ZM79.90 407.1h2.35V411.5h-2.35ZM84.60 398.9h2.35V407.1h-2.35ZM84.60 407.1h2.35V411.8h-2.35ZM89.30 398.2h2.35V407.1h-2.35ZM89.30 407.1h2.35V413.5h-2.35ZM94.00 397.8h2.35V407.1h-2.35ZM94.00 407.1h2.35V416.0h-2.35ZM98.70 396.5h2.35V407.1h-2.35ZM98.70 407.1h2.35V417.1h-2.35ZM103.40 395.4h2.35V407.1h-2.35ZM103.40 407.1h2.35V417.3h-2.35ZM108.10 393.8h2.35V407.1h-2.35ZM112.80 393.1h2.35V407.1h-2.35ZM112.80 407.1h2.35V417.7h-2.35ZM117.50 393.1h2.35V407.1h-2.35ZM122.20 392.5h2.35V407.1h-2.35ZM126.90 407.1h2.35V417.1h-2.35ZM131.60 407.1h2.35V422.0h-2.35ZM136.30 393.1h2.35V407.1h-2.35ZM136.30 407.1h2.35V422.0h-2.35ZM141.00 390.7h2.35V407.1h-2.35ZM141.00 407.1h2.35V422.0h-2.35ZM145.70 387.8h2.35V407.1h-2.35ZM145.70 407.1h2.35V422.0h-2.35ZM150.40 386.1h2.35V407.1h-2.35ZM150.40 407.1h2.35V422.0h-2.35ZM155.10 384.2h2.35V407.1h-2.35ZM159.80 383.2h2.35V407.1h-2.35ZM159.80 407.1h2.35V422.0h-2.35ZM164.50 383.2h2.35V407.1h-2.35ZM164.50 407.1h2.35V422.0h-2.35ZM169.20 382.1h2.35V407.1h-2.35ZM173.90 381.2h2.35V407.1h-2.35ZM178.60 381.2h2.35V407.1h-2.35ZM183.30 407.1h2.35V422.0h-2.35ZM188.00 407.1h2.35V422.0h-2.35ZM192.70 382.2h2.35V407.1h-2.35ZM197.40 407.1h2.35V422.0h-2.35ZM202.10 407.1h2.35V422.0h-2.35ZM206.80 382.9h2.35V407.1h-2.35ZM211.50 382.2h2.35V407.1h-2.35ZM216.20 381.8h2.35V407.1h-2.35ZM220.90 407.1h2.35V422.0h-2.35ZM225.60 407.1h2.35V422.0h-2.35ZM235.00 407.1h2.35V422.0h-2.35ZM239.70 407.1h2.35V422.0h-2.35ZM244.40 384.1h2.35V407.1h-2.35ZM244.40 407.1h2.35V422.0h-2.35ZM249.10 382.2h2.35V407.1h-2.35ZM253.80 379.6h2.35V407.1h-2.35ZM263.20 407.1h2.35V410.7h-2.35ZM267.90 407.1h2.35V422.0h-2.35ZM272.60 407.1h2.35V422.0h-2.35ZM277.30 389.1h2.35V407.1h-2.35ZM277.30 407.1h2.35V422.0h-2.35ZM282.00 384.1h2.35V407.1h-2.35ZM286.70 381.8h2.35V407.1h-2.35ZM286.70 407.1h2.35V422.0h-2.35ZM291.40 381.8h2.35V407.1h-2.35ZM291.40 407.1h2.35V422.0h-2.35ZM296.10 407.1h2.35V422.0h-2.35ZM300.80 381.2h2.35V407.1h-2.35ZM305.50 380.1h2.35V407.1h-2.35ZM310.20 380.1h2.35V407.1h-2.35ZM314.90 380.1h2.35V407.1h-2.35ZM352.50 407.1h2.35V407.5h-2.35ZM357.20 407.1h2.35V407.8h-2.35ZM361.90 407.1h2.35V409.8h-2.35ZM366.60 407.1h2.35V410.4h-2.35ZM371.30 407.1h2.35V414.4h-2.35ZM376.00 397.1h2.35V407.1h-2.35ZM380.70 395.1h2.35V407.1h-2.35ZM385.40 394.2h2.35V407.1h-2.35ZM385.40 407.1h2.35V413.5h-2.35ZM390.10 407.1h2.35V415.5h-2.35ZM394.80 394.7h2.35V407.1h-2.35ZM399.50 393.4h2.35V407.1h-2.35ZM404.20 392.9h2.35V407.1h-2.35ZM418.30 407.1h2.35V407.5h-2.35ZM423.00 407.1h2.35V407.5h-2.35ZM427.70 407.1h2.35V408.4h-2.35ZM432.40 407.1h2.35V409.1h-2.35ZM437.10 407.1h2.35V409.4h-2.35ZM441.80 407.1h2.35V411.5h-2.35ZM455.90 407.1h2.35V409.1h-2.35ZM460.60 406.2h2.35V407.1h-2.35ZM465.30 407.1h2.35V410.4h-2.35ZM470.00 405.1h2.35V407.1h-2.35ZM470.00 407.1h2.35V413.4h-2.35ZM474.70 403.4h2.35V407.1h-2.35ZM479.40 400.5h2.35V407.1h-2.35ZM484.10 400.5h2.35V407.1h-2.35ZM488.80 407.1h2.35V410.7h-2.35ZM493.50 407.1h2.35V411.8h-2.35ZM498.20 401.8h2.35V407.1h-2.35ZM502.90 401.1h2.35V407.1h-2.35ZM507.60 407.1h2.35V413.5h-2.35ZM512.30 407.1h2.35V416.0h-2.35ZM517.00 399.8h2.35V407.1h-2.35ZM517.00 407.1h2.35V416.7h-2.35ZM521.70 398.2h2.35V407.1h-2.35ZM521.70 407.1h2.35V417.3h-2.35ZM526.40 396.5h2.35V407.1h-2.35ZM531.10 395.1h2.35V407.1h-2.35ZM549.90 407.1h2.35V409.8h-2.35ZM554.60 407.1h2.35V412.7h-2.35ZM564.00 407.1h2.35V409.5h-2.35ZM568.70 407.1h2.35V413.4h-2.35ZM573.40 403.4h2.35V407.1h-2.35ZM573.40 407.1h2.35V414.5h-2.35ZM578.10 400.1h2.35V407.1h-2.35ZM578.10 407.1h2.35V415.5h-2.35ZM582.80 398.2h2.35V407.1h-2.35ZM582.80 407.1h2.35V416.7h-2.35ZM587.50 397.1h2.35V407.1h-2.35ZM587.50 407.1h2.35V419.3h-2.35ZM592.20 396.1h2.35V407.1h-2.35ZM592.20 407.1h2.35V422.0h-2.35ZM596.90 394.2h2.35V407.1h-2.35ZM601.60 393.1h2.35V407.1h-2.35ZM606.30 392.2h2.35V407.1h-2.35ZM611.00 392.2h2.35V407.1h-2.35ZM615.70 407.1h2.35V416.0h-2.35ZM620.40 407.1h2.35V417.1h-2.35ZM625.10 393.4h2.35V407.1h-2.35ZM629.80 393.4h2.35V407.1h-2.35ZM634.50 393.1h2.35V407.1h-2.35ZM634.50 407.1h2.35V416.7h-2.35ZM639.20 393.1h2.35V407.1h-2.35ZM643.90 393.1h2.35V407.1h-2.35ZM658.00 407.1h2.35V414.4h-2.35ZM667.40 396.1h2.35V407.1h-2.35Z" fill="#007c00"/>
<path d="M9.40 285.4h2.35V301.8h-2.35ZM14.10 288.0h2.35V301.8h-2.35ZM18.80 292.1h2.35V301.8h-2.35ZM23.50 296.6h2.35V301.8h-2.35ZM28.20 300.0h2.35V301.8h-2.35ZM32.90 300.7h2.35V301.8h-2.35ZM37.60 300.7h2.35V301.8h-2.35ZM51.70 299.3h2.35V301.8h-2.35ZM56.40 299.4h2.35V301.8h-2.35ZM103.40 282.1h2.35V301.8h-2.35ZM108.10 283.3h2.35V301.8h-2.35ZM155.10 259.7h2.35V301.8h-2.35ZM159.80 260.1h2.35V301.8h-2.35ZM169.20 260.9h2.35V301.8h-2.35ZM173.90 262.1h2.35V301.8h-2.35ZM178.60 263.3h2.35V301.8h-2.35ZM192.70 262.6h2.35V301.8h-2.35ZM197.40 263.1h2.35V301.8h-2.35ZM202.10 263.7h2.35V301.8h-2.35ZM206.80 265.0h2.35V301.8h-2.35ZM211.50 266.9h2.35V301.8h-2.35ZM216.20 269.0h2.35V301.8h-2.35ZM235.00 264.3h2.35V301.8h-2.35ZM239.70 268.3h2.35V301.8h-2.35ZM244.40 275.4h2.35V301.8h-2.35ZM249.10 279.7h2.35V301.8h-2.35ZM253.80 282.6h2.35V301.8h-2.35ZM282.00 263.7h2.35V301.8h-2.35ZM296.10 264.0h2.35V301.8h-2.35ZM300.80 265.4h2.35V301.8h-2.35ZM305.50 267.3h2.35V301.8h-2.35ZM310.20 269.1h2.35V301.8h-2.35ZM314.90 271.4h2.35V301.8h-2.35ZM319.60 274.0h2.35V301.8h-2.35ZM324.30 276.9h2.35V301.8h-2.35ZM329.00 280.9h2.35V301.8h-2.35ZM333.70 285.4h2.35V301.8h-2.35ZM338.40 289.7h2.35V301.8h-2.35ZM343.10 294.0h2.35V301.8h-2.35ZM347.80 296.9h2.35V301.8h-2.35ZM376.00 286.3h2.35V301.8h-2.35ZM380.70 286.3h2.35V301.8h-2.35ZM385.40 286.9h2.35V301.8h-2.35ZM390.10 287.3h2.35V301.8h-2.35ZM394.80 290.9h2.35V301.8h-2.35ZM399.50 295.4h2.35V301.8h-2.35ZM404.20 299.4h2.35V301.8h-2.35ZM408.90 301.8h2.35V302.4h-2.35ZM413.60 301.8h2.35V303.7h-2.35ZM418.30 301.8h2.35V303.9h-2.35ZM423.00 301.8h2.35V304.7h-2.35ZM427.70 301.8h2.35V306.8h-2.35ZM432.40 301.8h2.35V307.8h-2.35ZM441.80 301.8h2.35V307.8h-2.35ZM479.40 295.0h2.35V301.8h-2.35ZM484.10 295.0h2.35V301.8h-2.35ZM517.00 285.0h2.35V301.8h-2.35ZM521.70 287.1h2.35V301.8h-2.35ZM526.40 289.7h2.35V301.8h-2.35ZM531.10 293.7h2.35V301.8h-2.35ZM535.80 298.0h2.35V301.8h-2.35ZM540.50 300.6h2.35V301.8h-2.35ZM545.20 300.9h2.35V301.8h-2.35ZM592.20 277.1h2.35V301.8h-2.35ZM596.90 279.1h2.35V301.8h-2.35ZM601.60 279.7h2.35V301.8h-2.35ZM606.30 280.1h2.35V301.8h-2.35ZM611.00 280.9h2.35V301.8h-2.35ZM625.10 280.1h2.35V301.8h-2.35ZM629.80 282.1h2.35V301.8h-2.35ZM634.50 283.9h2.35V301.8h-2.35ZM639.20 285.4h2.35V301.8h-2.35ZM643.90 286.3h2.35V301.8h-2.35ZM9.40 343.6h2.35V344.1h-2.35ZM14.10 343.6h2.35V349.7h-2.35ZM18.80 343.6h2.35V357.6h-2.35ZM23.50 343.6h2.35V362.3h-2.35ZM28.20 343.6h2.35V362.9h-2.35ZM51.70 341.9h2.35V343.6h-2.35ZM56.40 343.2h2.35V343.7h-2.35ZM89.30 331.2h2.35V343.6h-2.35ZM94.00 332.6h2.35V343.6h-2.35ZM98.70 335.2h2.35V343.6h-2.35ZM103.40 339.7h2.35V343.6h-2.35ZM108.10 343.6h2.35V344.1h-2.35ZM136.30 323.7h2.35V343.6h-2.35ZM141.00 328.3h2.35V343.6h-2.35ZM145.70 330.9h2.35V343.6h-2.35ZM150.40 335.2h2.35V343.6h-2.35ZM155.10 339.3h2.35V343.6h-2.35ZM159.80 342.3h2.35V343.6h-2.35ZM164.50 343.2h2.35V343.7h-2.35ZM169.20 343.6h2.35V345.7h-2.35ZM173.90 343.6h2.35V348.3h-2.35ZM178.60 343.6h2.35V348.7h-2.35ZM192.70 343.6h2.35V344.1h-2.35ZM197.40 343.6h2.35V344.1h-2.35ZM202.10 343.6h2.35V345.7h-2.35ZM206.80 343.6h2.35V348.3h-2.35ZM211.50 343.6h2.35V350.7h-2.35ZM216.20 343.6h2.35V352.3h-2.35ZM235.00 339.0h2.35V343.6h-2.35ZM239.70 343.6h2.35V349.7h-2.35ZM244.40 343.6h2.35V363.6h-2.35ZM249.10 343.6h2.35V367.6h-2.35ZM277.30 327.2h2.35V343.6h-2.35ZM282.00 337.2h2.35V343.6h-2.35ZM286.70 341.2h2.35V343.6h-2.35ZM296.10 343.6h2.35V344.1h-2.35ZM300.80 343.6h2.35V348.0h-2.35ZM305.50 343.6h2.35V350.5h-2.35ZM310.20 343.6h2.35V352.6h-2.35ZM314.90 343.6h2.35V354.0h-2.35ZM319.60 343.6h2.35V354.3h-2.35ZM324.30 343.6h2.35V355.7h-2.35ZM329.00 343.6h2.35V360.5h-2.35ZM333.70 343.6h2.35V363.6h-2.35ZM338.40 343.6h2.35V365.0h-2.35ZM343.10 343.6h2.35V365.7h-2.35ZM376.00 337.9h2.35V343.6h-2.35ZM380.70 340.7h2.35V343.6h-2.35ZM385.40 343.6h2.35V344.1h-2.35ZM390.10 343.6h2.35V346.5h-2.35ZM394.80 343.6h2.35V351.6h-2.35ZM399.50 343.6h2.35V359.7h-2.35ZM404.20 343.6h2.35V362.9h-2.35ZM427.70 343.6h2.35V350.9h-2.35ZM460.60 330.2h2.35V343.6h-2.35ZM465.30 330.9h2.35V343.6h-2.35ZM470.00 335.5h2.35V343.6h-2.35ZM474.70 339.5h2.35V343.6h-2.35ZM479.40 343.2h2.35V343.7h-2.35ZM484.10 343.6h2.35V344.3h-2.35ZM517.00 338.3h2.35V343.6h-2.35ZM521.70 343.6h2.35V346.5h-2.35ZM526.40 343.6h2.35V352.2h-2.35ZM531.10 343.6h2.35V358.0h-2.35ZM535.80 343.6h2.35V362.3h-2.35ZM568.70 321.2h2.35V343.6h-2.35ZM573.40 326.2h2.35V343.6h-2.35ZM578.10 330.9h2.35V343.6h-2.35ZM582.80 335.2h2.35V343.6h-2.35ZM587.50 337.3h2.35V343.6h-2.35ZM592.20 340.9h2.35V343.6h-2.35ZM596.90 343.6h2.35V345.7h-2.35ZM601.60 343.6h2.35V347.9h-2.35ZM606.30 343.6h2.35V347.9h-2.35ZM625.10 343.3h2.35V343.8h-2.35ZM629.80 343.6h2.35V347.9h-2.35ZM634.50 343.6h2.35V350.7h-2.35ZM639.20 343.6h2.35V351.9h-2.35ZM0.00 385.8h2.35V407.1h-2.35ZM0.00 407.1h2.35V412.4h-2.35ZM4.70 387.1h2.35V407.1h-2.35ZM9.40 388.1h2.35V407.1h-2.35ZM18.80 407.1h2.35V415.5h-2.35ZM23.50 407.1h2.35V412.4h-2.35ZM28.20 387.6h2.35V407.1h-2.35ZM28.20 407.1h2.35V409.1h-2.35ZM32.90 390.1h2.35V407.1h-2.35ZM32.90 407.1h2.35V407.4h-2.35ZM37.60 393.1h2.35V407.1h-2.35ZM42.30 396.5h2.35V407.1h-2.35ZM42.30 407.1h2.35V408.0h-2.35ZM47.00 399.4h2.35V407.1h-2.35ZM47.00 407.1h2.35V407.4h-2.35ZM51.70 400.1h2.35V407.1h-2.35ZM56.40 407.1h2.35V407.5h-2.35ZM65.80 399.4h2.35V407.1h-2.35ZM70.50 399.4h2.35V407.1h-2.35ZM75.20 400.1h2.35V407.1h-2.35ZM108.10 407.1h2.35V417.3h-2.35ZM117.50 407.1h2.35V415.7h-2.35ZM122.20 407.1h2.35V414.7h-2.35ZM126.90 393.1h2.35V407.1h-2.35ZM131.60 394.2h2.35V407.1h-2.35ZM155.10 407.1h2.35V422.0h-2.35ZM169.20 407.1h2.35V422.0h-2.35ZM173.90 407.1h2.35V422.0h-2.35ZM178.60 407.1h2.35V422.0h-2.35ZM183.30 382.2h2.35V407.1h-2.35ZM188.00 383.2h2.35V407.1h-2.35ZM192.70 407.1h2.35V422.0h-2.35ZM197.40 382.9h2.35V407.1h-2.35ZM202.10 383.6h2.35V407.1h-2.35ZM206.80 407.1h2.35V422.0h-2.35ZM211.50 407.1h2.35V422.0h-2.35ZM216.20 407.1h2.35V422.0h-2.35ZM220.90 382.9h2.35V407.1h-2.35ZM225.60 383.8h2.35V407.1h-2.35ZM230.30 384.1h2.35V407.1h-2.35ZM230.30 407.1h2.35V418.4h-2.35ZM235.00 384.8h2.35V407.1h-2.35ZM239.70 385.2h2.35V407.1h-2.35ZM249.10 407.1h2.35V422.0h-2.35ZM253.80 407.1h2.35V411.5h-2.35ZM258.50 381.2h2.35V407.1h-2.35ZM263.20 387.8h2.35V407.1h-2.35ZM267.90 393.4h2.35V407.1h-2.35ZM272.60 394.1h2.35V407.1h-2.35ZM282.00 407.1h2.35V422.0h-2.35ZM296.10 381.8h2.35V407.1h-2.35ZM300.80 407.1h2.35V422.0h-2.35ZM305.50 407.1h2.35V422.0h-2.35ZM310.20 407.1h2.35V422.0h-2.35ZM314.90 407.1h2.35V422.0h-2.35ZM319.60 381.2h2.35V407.1h-2.35ZM319.60 407.1h2.35V422.0h-2.35ZM324.30 382.5h2.35V407.1h-2.35ZM324.30 407.1h2.35V422.0h-2.35ZM329.00 384.1h2.35V407.1h-2.35ZM329.00 407.1h2.35V418.8h-2.35ZM333.70 384.8h2.35V407.1h-2.35ZM333.70 407.1h2.35V416.4h-2.35ZM338.40 385.4h2.35V407.1h-2.35ZM338.40 407.1h2.35V413.4h-2.35ZM343.10 387.2h2.35V407.1h-2.35ZM343.10 407.1h2.35V409.1h-2.35ZM347.80 389.4h2.35V407.1h-2.35ZM347.80 407.1h2.35V407.5h-2.35ZM352.50 393.1h2.35V407.1h-2.35ZM357.20 395.1h2.35V407.1h-2.35ZM361.90 396.5h2.35V407.1h-2.35ZM366.60 398.2h2.35V407.1h-2.35ZM371.30 400.1h2.35V407.1h-2.35ZM376.00 407.1h2.35V412.7h-2.35ZM380.70 407.1h2.35V412.0h-2.35ZM390.10 395.1h2.35V407.1h-2.35ZM394.80 407.1h2.35V415.1h-2.35ZM399.50 407.1h2.35V412.7h-2.35ZM404.20 407.1h2.35V410.4h-2.35ZM408.90 394.7h2.35V407.1h-2.35ZM408.90 407.1h2.35V408.2h-2.35ZM413.60 396.9h2.35V407.1h-2.35ZM413.60 407.1h2.35V407.5h-2.35ZM418.30 398.9h2.35V407.1h-2.35ZM423.00 400.5h2.35V407.1h-2.35ZM427.70 401.8h2.35V407.1h-2.35ZM432.40 402.2h2.35V407.1h-2.35ZM437.10 402.8h2.35V407.1h-2.35ZM441.80 403.8h2.35V407.1h-2.35ZM446.50 405.1h2.35V407.1h-2.35ZM446.50 407.1h2.35V410.7h-2.35ZM451.20 406.2h2.35V407.1h-2.35ZM451.20 407.1h2.35V407.7h-2.35ZM460.60 407.1h2.35V407.4h-2.35ZM465.30 406.2h2.35V407.1h-2.35ZM474.70 407.1h2.35V412.2h-2.35ZM479.40 407.1h2.35V409.8h-2.35ZM484.10 407.1h2.35V409.8h-2.35ZM488.80 401.8h2.35V407.1h-2.35ZM493.50 402.2h2.35V407.1h-2.35ZM498.20 407.1h2.35V410.7h-2.35ZM502.90 407.1h2.35V410.4h-2.35ZM507.60 401.1h2.35V407.1h-2.35ZM512.30 401.1h2.35V407.1h-2.35ZM526.40 407.1h2.35V416.7h-2.35ZM531.10 407.1h2.35V412.7h-2.35ZM535.80 395.1h2.35V407.1h-2.35ZM535.80 407.1h2.35V410.4h-2.35ZM540.50 397.1h2.35V407.1h-2.35ZM540.50 407.1h2.35V408.8h-2.35ZM545.20 399.4h2.35V407.1h-2.35ZM545.20 407.1h2.35V407.4h-2.35ZM549.90 401.1h2.35V407.1h-2.35ZM554.60 402.4h2.35V407.1h-2.35ZM559.30 405.4h2.35V407.1h-2.35ZM559.30 407.1h2.35V408.8h-2.35ZM564.00 406.2h2.35V407.1h-2.35ZM596.90 407.1h2.35V422.0h-2.35ZM601.60 407.1h2.35V419.3h-2.35ZM606.30 407.1h2.35V418.4h-2.35ZM611.00 407.1h2.35V416.0h-2.35ZM615.70 392.2h2.35V407.1h-2.35ZM620.40 393.4h2.35V407.1h-2.35ZM625.10 407.1h2.35V416.7h-2.35ZM629.80 407.1h2.35V416.7h-2.35ZM639.20 407.1h2.35V414.7h-2.35ZM643.90 407.1h2.35V413.4h-2.35ZM648.60 393.4h2.35V407.1h-2.35ZM648.60 407.1h2.35V411.5h-2.35ZM653.30 394.9h2.35V407.1h-2.35ZM653.30 407.1h2.35V411.5h-2.35ZM658.00 396.5h2.35V407.1h-2.35ZM662.70 397.1h2.35V407.1h-2.35Z" fill="#ff0404"/>
<rect x="0" y="0" width="0.95" height="420" fill="#fff"/>
<path d="M1.55 0V420" stroke="#505050" stroke-width="1.2" fill="none"/>
<path d="M721.4 0V420" stroke="#707070" stroke-width="1.1" fill="none"/>
<path d="M1.0 253.85H721.9" stroke="#555" stroke-width="2.0" fill="none"/>
<path d="M1.0 313.9H721.9" stroke="#555" stroke-width="2.0" fill="none"/>
<path d="M1.0 373.85H721.9" stroke="#555" stroke-width="2.0" fill="none"/>
<g style="filter:grayscale(1)">
<path d="M721.4 9.1h2.4M721.4 27.9h2.4M721.4 46.7h2.4M721.4 65.5h2.4M721.4 84.3h2.4M721.4 103.0h2.4M721.4 121.8h2.4M721.4 140.6h2.4M721.4 159.4h2.4M721.4 178.2h2.4M721.4 197.0h2.4M721.4 215.8h2.4M721.4 234.6h2.4M721.4 255.3h2.4M721.4 312.4h2.4M721.4 315.2h2.4M721.4 372.4h2.4M721.4 375.2h2.4" stroke="#5a5a5a" stroke-width="0.8" fill="none"/>
<text x="724.0" y="11.6" font-size="6.5" stroke="#000" stroke-width="0.1" textLength="19.3" lengthAdjust="spacingAndGlyphs">6230.25</text>
<text x="724.0" y="30.4" font-size="6.5" stroke="#000" stroke-width="0.1" textLength="19.3" lengthAdjust="spacingAndGlyphs">6218.40</text>
<text x="724.0" y="49.2" font-size="6.5" stroke="#000" stroke-width="0.1" textLength="19.3" lengthAdjust="spacingAndGlyphs">6206.55</text>
<text x="724.0" y="68.0" font-size="6.5" stroke="#000" stroke-width="0.1" textLength="19.3" lengthAdjust="spacingAndGlyphs">6194.70</text>
<text x="724.0" y="86.8" font-size="6.5" stroke="#000" stroke-width="0.1" textLength="19.3" lengthAdjust="spacingAndGlyphs">6182.85</text>
<text x="724.0" y="105.5" font-size="6.5" stroke="#000" stroke-width="0.1" textLength="19.3" lengthAdjust="spacingAndGlyphs">6171.00</text>
<text x="724.0" y="124.3" font-size="6.5" stroke="#000" stroke-width="0.1" textLength="19.3" lengthAdjust="spacingAndGlyphs">6159.15</text>
<text x="724.0" y="143.1" font-size="6.5" stroke="#000" stroke-width="0.1" textLength="19.3" lengthAdjust="spacingAndGlyphs">6147.30</text>
<text x="724.0" y="161.9" font-size="6.5" stroke="#000" stroke-width="0.1" textLength="19.3" lengthAdjust="spacingAndGlyphs">6135.45</text>
<text x="724.0" y="180.7" font-size="6.5" stroke="#000" stroke-width="0.1" textLength="19.3" lengthAdjust="spacingAndGlyphs">6123.60</text>
<text x="724.0" y="199.5" font-size="6.5" stroke="#000" stroke-width="0.1" textLength="19.3" lengthAdjust="spacingAndGlyphs">6111.75</text>
<text x="724.0" y="218.3" font-size="6.5" stroke="#000" stroke-width="0.1" textLength="19.3" lengthAdjust="spacingAndGlyphs">6099.90</text>
<text x="724.0" y="237.1" font-size="6.5" stroke="#000" stroke-width="0.1" textLength="19.3" lengthAdjust="spacingAndGlyphs">6088.05</text>
<text x="724.2" y="259.9" font-size="6.5" stroke="#000" stroke-width="0.1" textLength="16.0" lengthAdjust="spacingAndGlyphs">36.311</text>
<text x="724.2" y="304.2" font-size="6.5" stroke="#000" stroke-width="0.1" textLength="13.4" lengthAdjust="spacingAndGlyphs">0.000</text>
<text x="724.2" y="312.3" font-size="6.5" stroke="#000" stroke-width="0.1" textLength="14.9" lengthAdjust="spacingAndGlyphs">-8.785</text>
<text x="724.2" y="319.8" font-size="6.5" stroke="#000" stroke-width="0.1" textLength="16.4" lengthAdjust="spacingAndGlyphs">8.8649</text>
<text x="724.2" y="346.0" font-size="6.5" stroke="#000" stroke-width="0.1" textLength="16.4" lengthAdjust="spacingAndGlyphs">0.0000</text>
<text x="724.2" y="372.0" font-size="6.5" stroke="#000" stroke-width="0.1" textLength="17.7" lengthAdjust="spacingAndGlyphs">-8.7900</text>
<text x="724.2" y="379.6" font-size="6.5" stroke="#000" stroke-width="0.1" textLength="16.0" lengthAdjust="spacingAndGlyphs">19.653</text>
<text x="724.2" y="409.5" font-size="6.5" stroke="#000" stroke-width="0.1" textLength="13.4" lengthAdjust="spacingAndGlyphs">0.000</text>
<text x="3.5" y="262.9" font-size="6.5" stroke="#000" stroke-width="0.1" textLength="36.8" lengthAdjust="spacingAndGlyphs">AOcust 12.154</text>
<text x="3.5" y="322.1" font-size="6.5" stroke="#000" stroke-width="0.1" textLength="37.4" lengthAdjust="spacingAndGlyphs">ACcust -1.7472</text>
<text x="3.5" y="381.8" font-size="6.5" stroke="#000" stroke-width="0.1" textLength="56.6" lengthAdjust="spacingAndGlyphs">GatorCust 6.776 -4.518</text>
</g>
</svg></body></html>
